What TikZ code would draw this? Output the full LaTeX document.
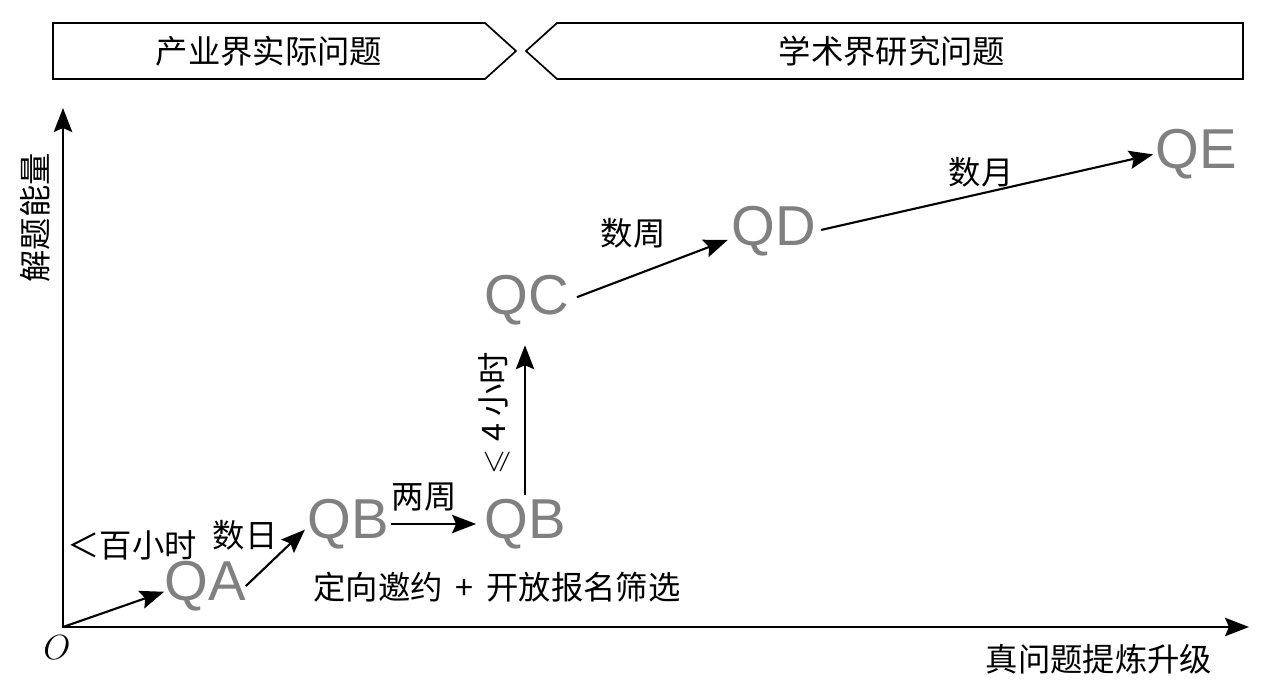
\documentclass[tikz,border=0pt]{standalone}
\usepackage{amssymb}
\usepackage{fontspec}
\newfontfamily\cjk{Noto Sans CJK SC}
\newfontfamily\qfont{Liberation Sans}
\usetikzlibrary{arrows.meta,positioning}
\definecolor{qgray}{gray}{0.5}

\begin{document}
\begin{tikzpicture}[x=0.025cm,y=-0.025cm,>={Stealth[length=0.6cm,width=0.46cm,inset=0.1cm]}]

        \tikzstyle{qnode}=[inner sep=0pt,text=qgray,font=\qfont\fontsize{40}{40}\selectfont]
        \tikzstyle{lbl}=[inner sep=0pt,font=\cjk\fontsize{23}{23}\selectfont]
        \tikzstyle{banner}=[line width=1.2pt,line join=miter]
        \tikzstyle{link}=[->,line width=1.5pt]

        \useasboundingbox (0,0) rectangle (1276,688);

        % banners
        \draw[banner] (53,23) -- (485,23) -- (516,51) -- (485,79) -- (53,79) -- cycle;
        \draw[banner] (557,23) -- (1243,23) -- (1243,79) -- (557,79) -- (526,51) -- cycle;
        \node[lbl] (ind) at (269,51) {产业界实际问题};
        \node[lbl] (aca) at (892,51) {学术界研究问题};

        % axes
        \coordinate (O) at (63,627);
        \coordinate (Ytip) at (63,108);
        \coordinate (Xtip) at (1249,627);
        \draw[<->,line width=1.9pt] (Ytip) -- (O) -- (Xtip);
        \node[inner sep=0pt,font=\fontsize{27}{27}\selectfont] (Olbl) at (57,648) {$O$};
        \node[lbl,rotate=90] (ylbl) at (35,218) {解题能量};
        \node[lbl] (xlbl) at (1099,659) {真问题提炼升级};

        \node[qnode] (QA) at (205,586) {QA};
        \node[qnode] (QB) at (348,524) {QB};
        \node[qnode] (QBb) at (525,524) {QB};
        \node[qnode] (QC) at (527,300) {QC};
        \node[qnode] (QD) at (774,231) {QD};
        \node[qnode] (QE) at (1196,154) {QE};

        \node[lbl] (tA) at (132,545) {＜百小时};
        \node[lbl] (tB) at (245,535) {数日};
        \node[lbl] (tBb) at (424,497) {两周};
        \node[lbl] (tsel) at (497,587) {定向邀约\hspace{0.4em}+\hspace{0.4em}开放报名筛选};
        \node[lbl,rotate=90] (tC) at (494,413) {$\leqslant$ 4 小时};
        \node[lbl] (tD) at (633,233) {数周};
        \node[lbl] (tE) at (981,172) {数月};

        \path [link] (O) edge (QA.188);
        \path [link] (QA.east) edge[shorten >=0.075cm] (QB.185);
        \path [link] (QB.east) edge[shorten <=0.05cm,shorten >=0.2cm] (QBb.west);
        \path [link] (QBb.north) edge[shorten <=0.1cm,shorten >=0.5cm] (QBb.north |- QC.south);
        \path [link] (QC.east) edge[shorten <=0.2cm,shorten >=0.1cm] (QD.190);
        \path [link] (QD.east) edge[shorten <=0.12cm,shorten >=0.05cm] (QE.west);
      \end{tikzpicture}
\end{document}
